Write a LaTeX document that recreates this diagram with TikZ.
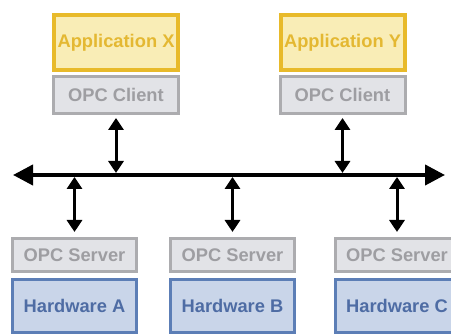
\documentclass[tikz,border=0pt]{standalone}
\usepackage{fontspec}
\setmainfont{Liberation Sans}
\usetikzlibrary{arrows.meta}
\definecolor{appborder}{RGB}{232,186,42}
\definecolor{appfill}{RGB}{249,237,182}
\definecolor{apptext}{RGB}{228,184,50}
\definecolor{opcborder}{RGB}{172,172,175}
\definecolor{opcfill}{RGB}{226,227,231}
\definecolor{opctext}{RGB}{158,158,162}
\definecolor{hwborder}{RGB}{92,126,182}
\definecolor{hwfill}{RGB}{201,213,233}
\definecolor{hwtext}{RGB}{78,108,164}
\tikzset{
  boxbase/.style={rectangle, inner sep=0pt, font=\fontsize{18.3}{21}\selectfont\bfseries},
  appbox/.style={boxbase, draw=appborder, fill=appfill, text=apptext, line width=4pt, minimum width=124pt, minimum height=55pt},
  opcbox/.style={boxbase, draw=opcborder, fill=opcfill, text=opctext, line width=3pt, minimum width=125pt, minimum height=37pt},
  srvbox/.style={boxbase, draw=opcborder, fill=opcfill, text=opctext, line width=3pt, minimum width=124pt, minimum height=33pt},
  hwbox/.style={boxbase, draw=hwborder, fill=hwfill, text=hwtext, line width=3pt, minimum width=124pt, minimum height=53pt},
  dbl/.style={line width=3pt, {Triangle[length=12pt,width=15pt]}-{Triangle[length=12pt,width=15pt]}},
  busline/.style={line width=4pt, {Triangle[length=20pt,width=20pt]}-{Triangle[length=20pt,width=20pt]}}
}
\begin{document}
\begin{tikzpicture}[x=1pt,y=-1pt]
\useasboundingbox (0,0) rectangle (451,336);
\fill[white] (0,0) rectangle (451,336);
% top
\node[appbox] (appX) at (116,42.5) {Application X};
\node[opcbox] (cliX) at (116,95) {OPC Client};
\node[appbox] (appY) at (342.5,42.5) {Application Y};
\node[opcbox] (cliY) at (342.5,95) {OPC Client};
% bottom
\node[srvbox] (srvA) at (74.5,255) {OPC Server};
\node[hwbox] (hwA) at (74.5,306) {Hardware A};
\node[srvbox] (srvB) at (232.5,255) {OPC Server};
\node[hwbox] (hwB) at (232.5,306) {Hardware B};
\node[srvbox] (srvC) at (397,255) {OPC Server};
\node[hwbox] (hwC) at (397,306) {Hardware C};
% bus
\coordinate (busL) at (13,175);
\coordinate (busR) at (445,175);
\draw[busline] (busL) -- (busR);
% connectors
\draw[dbl] ([yshift=-3pt]cliX.south) -- ([yshift=2pt]cliX.south |- busL);
\draw[dbl] ([yshift=-3pt]cliY.south) -- ([yshift=2pt]cliY.south |- busL);
\draw[dbl] ([yshift=-2pt]srvA.north |- busL) -- ([yshift=5pt]srvA.north);
\draw[dbl] ([yshift=-2pt]srvB.north |- busL) -- ([yshift=5pt]srvB.north);
\draw[dbl] ([yshift=-2pt]srvC.north |- busL) -- ([yshift=5pt]srvC.north);
\end{tikzpicture}
\end{document}
